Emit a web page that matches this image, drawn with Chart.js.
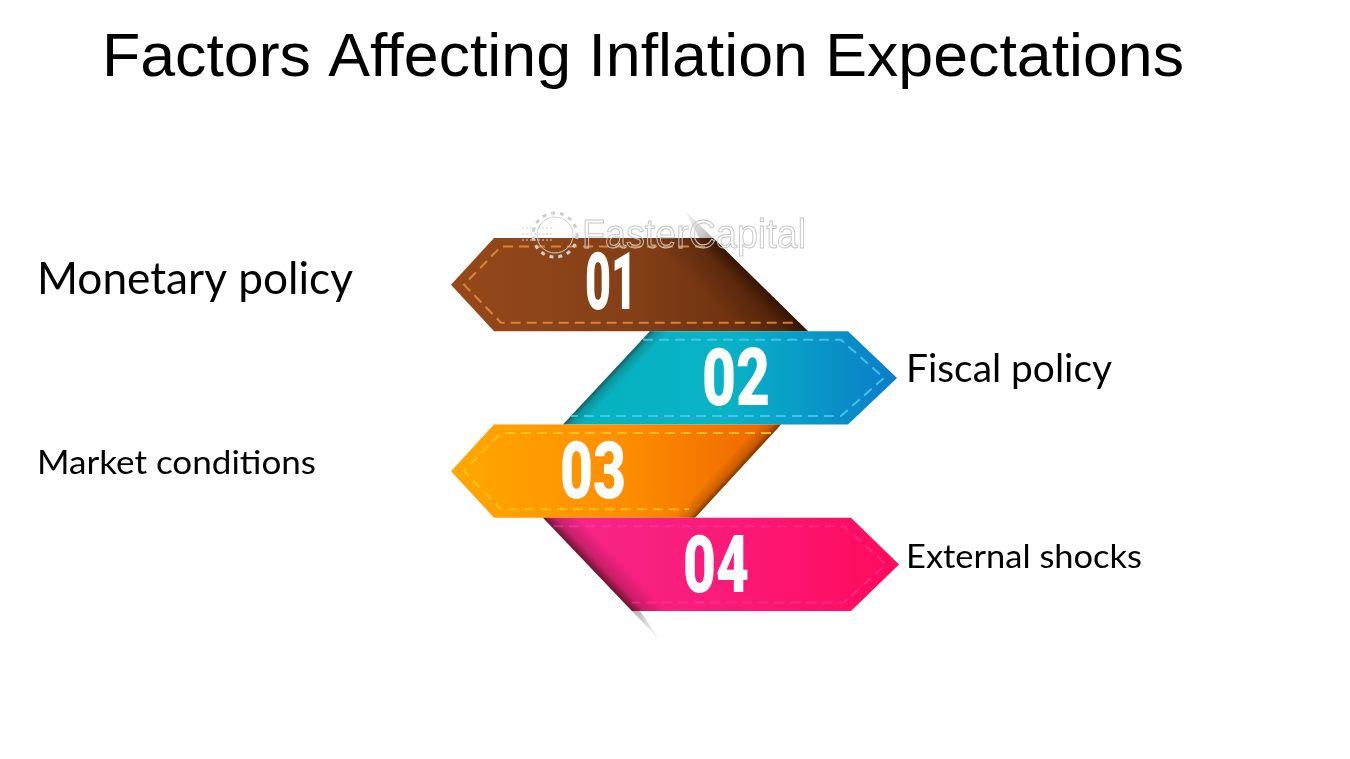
<!DOCTYPE html>
<html>
<head>
<meta charset="utf-8">
<style>
  html, body { margin: 0; padding: 0; background: #ffffff; }
  canvas { display: block; }
</style>
<script src="https://cdn.jsdelivr.net/npm/chart.js@4"></script>
</head>
<body>
<canvas id="chart" width="1350" height="759"></canvas>
<script>
// Chart data
const titleText = "Factors Affecting Inflation Expectations";
const stepNumbers = ["01", "02", "03", "04"];
const factorLabels = ["Monetary policy", "Fiscal policy", "Market conditions", "External shocks"];
const ribbonStart = [451, 563, 451, 543];
const ribbonEnd = [808, 897, 781, 899];

// Ribbon look, one entry per step
const ribbonStyles = [
  { point: "left", shoulder: 43, topInset: 95, botInset: 0, fold: "right", shade: 46, shadeAlpha: 0.75, topGap: -8, botGap: -10,
    stops: ["#96491a", "#843f17", "#60290b"], dash: "#e58f3f", dashAlpha: 0.85, tail: -28, tailSide: -14 },
  { point: "right", shoulder: 49, topInset: 87, botInset: 0, fold: "left", shade: 14, shadeAlpha: 0.5, topGap: -7, botGap: 8,
    stops: ["#05b2bd", "#08b3c6", "#0b7cc8"], dash: "#4ccaf0", dashAlpha: 0.85 },
  { point: "left", shoulder: 43, topInset: 0, botInset: 86, fold: "right", shade: 16, shadeAlpha: 0.55, topGap: -10, botGap: -6,
    stops: ["#ffa800", "#ff8f00", "#ec6400"], dash: "#ffc71f", dashAlpha: 0.85 },
  { point: "right", shoulder: 48, topInset: 0, botInset: 89, fold: "left", shade: 26, shadeAlpha: 0.65, topGap: 10, botGap: 0,
    stops: ["#f5298c", "#fb1a78", "#ff0a5c"], dash: "#fa45b4", dashAlpha: 0.45, tail: 29, tailSide: 8 },
];
const numberStyles = [
  { x: 611, width: 52, dy: 24.4 },
  { x: 736, width: 68, dy: 27 },
  { x: 593, width: 66, dy: 27 },
  { x: 716, width: 66, dy: 27.5 },
];
const labelStyles = [
  { x: 37, y: 294, size: 44, width: 316 },
  { x: 906, y: 382, size: 38, width: 206 },
  { x: 37, y: 474, size: 33, width: 279 },
  { x: 906, y: 568, size: 33, width: 236 },
];

function ribbonCorners(bar, style) {
  const top = bar.y - bar.height / 2;
  const bot = bar.y + bar.height / 2;
  const xL = bar.base;
  const xR = bar.x;
  if (style.point === "left") {
    return { top, bot, mid: bar.y, tip: xL, sh: xL + style.shoulder,
      slantTop: xR - style.topInset, slantBot: xR - style.botInset };
  }
  return { top, bot, mid: bar.y, tip: xR, sh: xR - style.shoulder,
    slantTop: xL + style.topInset, slantBot: xL + style.botInset };
}

function traceRibbon(ctx, c) {
  ctx.beginPath();
  ctx.moveTo(c.slantTop, c.top);
  ctx.lineTo(c.sh, c.top);
  ctx.lineTo(c.tip, c.mid);
  ctx.lineTo(c.sh, c.bot);
  ctx.lineTo(c.slantBot, c.bot);
  ctx.closePath();
}

// dark band running along the slanted edge
function drawFoldShadow(ctx, c, style) {
  const dx = c.slantBot - c.slantTop;
  const dy = c.bot - c.top;
  const len = Math.hypot(dx, dy);
  // normal pointing into the ribbon
  const side = style.fold === "right" ? -1 : 1;
  const nx = (dy / len) * side;
  const ny = (-dx / len) * side;
  const mx = (c.slantTop + c.slantBot) / 2;
  const my = (c.top + c.bot) / 2;
  const g = ctx.createLinearGradient(mx, my, mx + nx * style.shade, my + ny * style.shade);
  g.addColorStop(0, `rgba(35,12,0,${style.shadeAlpha})`);
  g.addColorStop(0.35, `rgba(35,12,0,${style.shadeAlpha / 3})`);
  g.addColorStop(1, "rgba(35,12,0,0)");
  ctx.fillStyle = g;
  ctx.fillRect(0, 0, 1350, 759);
}

function drawTail(ctx, c, style) {
  if (!style.tail) return;
  const dx = c.slantBot - c.slantTop;
  const dy = c.bot - c.top;
  const k = style.tail / dy;
  const fromX = style.tail < 0 ? c.slantTop : c.slantBot;
  const fromY = style.tail < 0 ? c.top : c.bot;
  const endX = fromX + dx * k;
  const endY = fromY + style.tail;
  const g = ctx.createLinearGradient(fromX, fromY, endX, endY);
  g.addColorStop(0, "rgba(120,120,120,0.6)");
  g.addColorStop(1, "rgba(190,190,190,0.12)");
  ctx.fillStyle = g;
  ctx.beginPath();
  ctx.moveTo(fromX, fromY);
  ctx.lineTo(endX, endY);
  ctx.lineTo(fromX + style.tailSide, fromY);
  ctx.closePath();
  ctx.fill();
}

function drawStitches(ctx, c, style) {
  const inset = 8.5;
  const dir = style.point === "left" ? 1 : -1;
  ctx.save();
  ctx.strokeStyle = style.dash;
  ctx.lineWidth = 2;
  ctx.lineJoin = "round";
  ctx.globalAlpha = style.dashAlpha;
  ctx.setLineDash([10, 6]);
  ctx.beginPath();
  ctx.moveTo(c.slantTop + style.topGap, c.top + inset);
  ctx.lineTo(c.sh + dir * 7, c.top + inset);
  ctx.lineTo(c.tip + dir * 13, c.mid);
  ctx.lineTo(c.sh + dir * 7, c.bot - inset);
  ctx.lineTo(c.slantBot + style.botGap, c.bot - inset);
  ctx.stroke();
  ctx.restore();
}

function drawWatermark(ctx) {
  ctx.save();
  ctx.strokeStyle = "#c6c6c6";
  ctx.lineWidth = 1;
  ctx.font = "41px 'Liberation Sans'";
  ctx.textBaseline = "alphabetic";
  ctx.textAlign = "left";
  const w = ctx.measureText("FasterCapital").width;
  ctx.translate(582, 248);
  ctx.scale(224 / w, 1);
  ctx.strokeText("FasterCapital", 0, 0);
  ctx.restore();

  // gear logo
  ctx.save();
  ctx.strokeStyle = "#cfcfcf";
  ctx.lineWidth = 1;
  ctx.beginPath();
  ctx.arc(555, 235, 18, 0, Math.PI * 2);
  ctx.stroke();
  ctx.lineWidth = 3;
  ctx.setLineDash([4, 5]);
  ctx.beginPath();
  ctx.arc(555, 235, 22, 0, Math.PI * 2);
  ctx.stroke();
  ctx.setLineDash([2, 2]);
  ctx.lineWidth = 1.2;
  [228, 234, 240].forEach((y) => {
    ctx.beginPath();
    ctx.moveTo(522, y);
    ctx.lineTo(552, y);
    ctx.stroke();
  });
  ctx.restore();
}

const ribbonPlugin = {
  id: "ribbons",
  afterDatasetsDraw(chart) {
    const ctx = chart.ctx;
    const bars = chart.getDatasetMeta(0).data;

    ctx.save();
    bars.forEach((bar, i) => {
      const style = ribbonStyles[i];
      const c = ribbonCorners(bar, style);
      const fill = ctx.createLinearGradient(bar.base, 0, bar.x, 0);
      fill.addColorStop(0, style.stops[0]);
      fill.addColorStop(0.5, style.stops[1]);
      fill.addColorStop(1, style.stops[2]);
      drawTail(ctx, c, style);
      ctx.save();
      traceRibbon(ctx, c);
      ctx.fillStyle = fill;
      ctx.fill();
      ctx.clip();
      drawFoldShadow(ctx, c, style);
      ctx.restore();
      drawStitches(ctx, c, style);
    });

    // step numbers
    ctx.fillStyle = "#ffffff";
    ctx.textAlign = "center";
    ctx.textBaseline = "alphabetic";
    ctx.font = "900 80px Roboto";
    bars.forEach((bar, i) => {
      const n = numberStyles[i];
      const w = ctx.measureText(stepNumbers[i]).width;
      ctx.save();
      ctx.translate(n.x, bar.y + n.dy);
      ctx.scale(n.width / w, 1);
      ctx.fillText(stepNumbers[i], 0, 0);
      ctx.restore();
    });

    drawWatermark(ctx);

    // factor names beside the ribbons
    ctx.fillStyle = "#000000";
    ctx.textAlign = "left";
    factorLabels.forEach((label, i) => {
      const s = labelStyles[i];
      ctx.font = s.size + "px Lato";
      const w = ctx.measureText(label).width;
      ctx.save();
      ctx.translate(s.x, s.y);
      ctx.scale(s.width / w, 1);
      ctx.fillText(label, 0, 0);
      ctx.restore();
    });

    // title
    ctx.font = "62px 'Liberation Sans'";
    const tw = ctx.measureText(titleText).width;
    ctx.save();
    ctx.translate(102, 76);
    ctx.scale(1082 / tw, 1);
    ctx.fillText(titleText, 0, 0);
    ctx.restore();
    ctx.restore();
  },
};

new Chart(document.getElementById("chart"), {
  type: "bar",
  data: {
    labels: stepNumbers,
    datasets: [
      {
        label: "Factors",
        data: ribbonStart.map((start, i) => [start, ribbonEnd[i]]),
        backgroundColor: "rgba(0,0,0,0)",
        borderWidth: 0,
        barPercentage: 1,
        categoryPercentage: 1,
      },
    ],
  },
  options: {
    indexAxis: "y",
    responsive: false,
    animation: false,
    layout: { padding: { top: 238, bottom: 148, left: 0, right: 0 } },
    plugins: { legend: { display: false }, title: { display: false }, tooltip: { enabled: false } },
    scales: {
      x: { display: false, min: 0, max: 1350 },
      y: { display: false },
    },
  },
  plugins: [ribbonPlugin],
});
</script>
</body>
</html>
